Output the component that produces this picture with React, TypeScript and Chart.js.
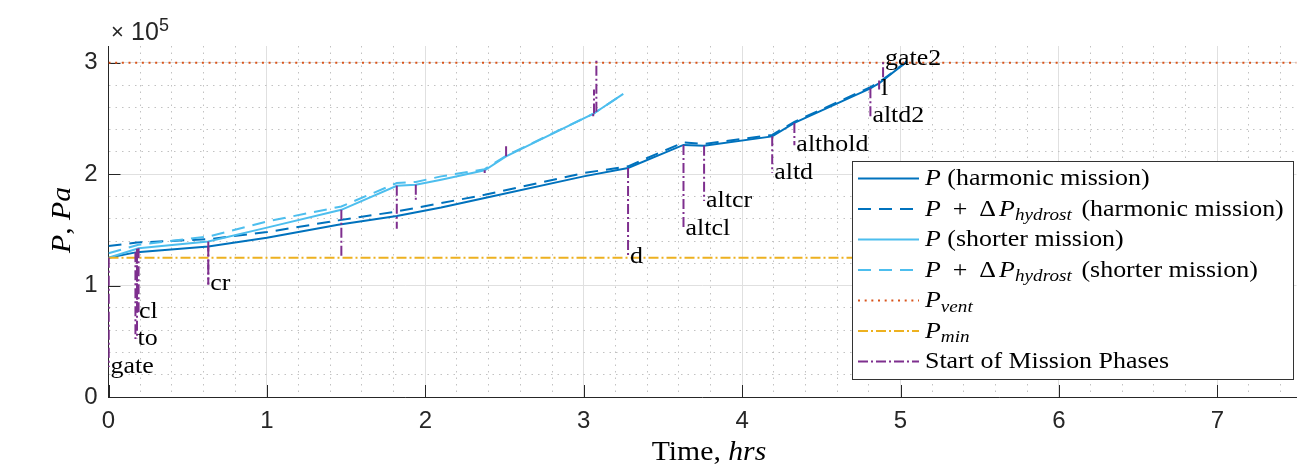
import React, { useEffect, useRef } from "react";
import { Chart, registerables } from "chart.js";

Chart.register(...registerables);

// ---------------- data (pressure in Pa, time in hours) ----------------
const harmonicTime = [0, 0.18, 0.63, 1.0, 1.45, 1.82, 2.1, 2.375, 3.0, 3.28, 3.63, 3.76, 4.19, 4.33, 4.81, 4.87, 5.04];
const harmonicP = [125000, 130000, 135000, 143000, 154500, 162500, 170000, 178500, 198000, 205500, 226200, 225500, 233900, 246000, 277000, 282000, 301000];
const harmonicPHydro = [135500, 138600, 141600, 148000, 158500, 166500, 174000, 181500, 201000, 207000, 228500, 227000, 235200, 247000, 278000, 283000, 301000];

const shorterTime = [0, 0.19, 0.63, 1.0, 1.47, 1.82, 1.94, 2.1, 2.375, 2.51, 3.065, 3.08, 3.25];
const shorterP = [125000, 133500, 139500, 152000, 168000, 189500, 190500, 195000, 203500, 216000, 254500, 256000, 272000];
const shorterPHydro = [129000, 136600, 144000, 157500, 171000, 192000, 193000, 198000, 204500, 216500, 254500, 256000, 272000];

const ventPressure = 300000;
const minPressure = 125000;
const timeRange = [0, 7.5];
const pressureRange = [0, 315000];

const phaseNames = ["gate", "to", "cl", "cr", "d", "altcl", "altcr", "altd", "althold", "altd2", "l", "gate2"];
const harmonicPhaseTime = [0, 0.17, 0.18, 0.63, 3.28, 3.63, 3.76, 4.19, 4.33, 4.81, 4.865, 4.89];
const harmonicPhaseP = [125000, 130000, 130000, 135000, 205500, 226200, 225500, 233900, 246000, 277000, 284000, 287000];
const phaseLabelP = [27000, 52000, 76000, 101000, 126000, 151000, 176000, 201000, 226000, 252000, 276000, 303000];
const shorterPhaseTime = [0, 0.18, 0.19, 0.63, 1.47, 1.82, 1.94, 2.375, 2.51, 3.06, 3.065, 3.08];
const shorterPhaseP = [125000, 133000, 133500, 139500, 168000, 189500, 190500, 203500, 216000, 254000, 254500, 256000];

const xTickValues = [0, 1, 2, 3, 4, 5, 6, 7];
const yTickValues = [0, 100000, 200000, 300000];
const xMinorStep = 0.2;
const yMinorStep = 20000;

// ---------------- styling ----------------
const C_HARM = "#0072BD";
const C_SHORT = "#4DBEEE";
const C_VENT = "#D95319";
const C_MIN = "#EDB120";
const C_PHASE = "#7E2F8E";
const AXIS = "#262626";
const SERIF = '"Liberation Serif", "Times New Roman", serif';
const SANS = '"Liberation Sans", Arial, sans-serif';
const DASH = [13, 8];
const DASHDOT = [10, 3, 2, 3];
const DOT = [2, 4.67];

type Seg = { t?: string; it?: boolean; sub?: boolean; gap?: number };

function segFont(s: Seg, size: number) {
  const fs = s.sub ? size * 0.74 : size;
  return `${s.it ? "italic " : ""}${fs}px ${SERIF}`;
}
function rawWidth(ctx: CanvasRenderingContext2D, segs: Seg[], size: number) {
  let w = 0;
  for (const s of segs) {
    if (s.gap) { w += s.gap; continue; }
    ctx.font = segFont(s, size);
    w += ctx.measureText(s.t || "").width;
  }
  return w;
}
function drawRich(ctx: CanvasRenderingContext2D, segs: Seg[], x: number, y: number, size: number,
  align: "left" | "center" = "left", rot = 0, sx = 1.08) {
  ctx.save();
  ctx.textBaseline = "alphabetic";
  ctx.textAlign = "left";
  ctx.fillStyle = "#000";
  const w = rawWidth(ctx, segs, size) * sx;
  ctx.translate(x, y);
  if (rot) ctx.rotate(rot);
  ctx.translate(align === "center" ? -w / 2 : 0, 0);
  ctx.scale(sx, 1);
  let cx = 0;
  for (const s of segs) {
    if (s.gap) { cx += s.gap; continue; }
    ctx.font = segFont(s, size);
    ctx.fillText(s.t || "", cx, s.sub ? size * 0.2 : 0);
    cx += ctx.measureText(s.t || "").width;
  }
  ctx.restore();
}

const hydroSegs: Seg[] = [
  { t: "P", it: true }, { gap: 5 }, { t: " + " }, { gap: 5 }, { t: "Δ" }, { gap: 3 },
  { t: "P", it: true }, { t: "hydrost", it: true, sub: true }, { gap: 3 },
];
const legendRows: Seg[][] = [
  [{ t: "P", it: true }, { t: " (harmonic mission)" }],
  [...hydroSegs, { t: " (harmonic mission)" }],
  [{ t: "P", it: true }, { t: " (shorter mission)" }],
  [...hydroSegs, { t: " (shorter mission)" }],
  [{ t: "P", it: true }, { t: "vent", it: true, sub: true }],
  [{ t: "P", it: true }, { t: "min", it: true, sub: true }],
  [{ t: "Start of Mission Phases" }],
];
const legendStyles = [
  { color: C_HARM, dash: [] as number[] },
  { color: C_HARM, dash: DASH },
  { color: C_SHORT, dash: [] as number[] },
  { color: C_SHORT, dash: DASH },
  { color: C_VENT, dash: DOT },
  { color: C_MIN, dash: DASHDOT },
  { color: C_PHASE, dash: DASHDOT },
];

const isInt = (v: number, unit: number) => Math.abs(v / unit - Math.round(v / unit)) < 1e-6;

const decorPlugin = {
  id: "decor",
  beforeDatasetsDraw(chart: any) {
    const { ctx, chartArea: a, scales } = chart;
    ctx.save();
    ctx.strokeStyle = AXIS;
    ctx.lineWidth = 1;
    ctx.setLineDash([]);
    ctx.beginPath();
    for (const v of xTickValues) {
      const px = Math.round(scales.x.getPixelForValue(v)) + 0.5;
      ctx.moveTo(px, a.bottom);
      ctx.lineTo(px, a.bottom - 12);
    }
    for (const v of yTickValues) {
      const py = Math.round(scales.y.getPixelForValue(v)) + 0.5;
      ctx.moveTo(a.left, py);
      ctx.lineTo(a.left + 12, py);
    }
    ctx.stroke();
    ctx.restore();
  },
  afterDatasetsDraw(chart: any) {
    const { ctx, scales } = chart;
    phaseNames.forEach((name, i) => {
      const px = scales.x.getPixelForValue(harmonicPhaseTime[i]);
      const py = scales.y.getPixelForValue(phaseLabelP[i]);
      drawRich(ctx, [{ t: name }], px + 2, py + 6, 24);
    });
  },
  afterDraw(chart: any) {
    const { ctx } = chart;
    // axis titles
    drawRich(ctx, [{ t: "Time, " }, { t: "hrs", it: true }], 709, 460, 27, "center", 0, 1.1);
    drawRich(ctx, [{ t: "P", it: true }, { t: ", " }, { t: "Pa", it: true }], 70, 220, 27, "center", -Math.PI / 2, 1.1);
    // exponent
    ctx.save();
    ctx.fillStyle = AXIS;
    ctx.textBaseline = "alphabetic";
    ctx.font = `22px ${SANS}`;
    ctx.fillText("×", 111, 39);
    ctx.font = `25px ${SANS}`;
    ctx.fillText("10", 131, 40);
    ctx.font = `18px ${SANS}`;
    ctx.fillText("5", 159, 31);
    ctx.restore();
    // legend
    const lx = 852.5, ly = 161.5, lw = 441, lh = 218;
    ctx.save();
    ctx.fillStyle = "#fff";
    ctx.fillRect(lx, ly, lw, lh);
    ctx.strokeStyle = "#333";
    ctx.lineWidth = 1;
    ctx.setLineDash([]);
    ctx.strokeRect(lx, ly, lw, lh);
    legendRows.forEach((row, i) => {
      const base = 185 + i * 30.5;
      const st = legendStyles[i];
      ctx.save();
      ctx.strokeStyle = st.color;
      ctx.lineWidth = 2;
      ctx.setLineDash(st.dash);
      ctx.beginPath();
      ctx.moveTo(858, base - 6.5);
      ctx.lineTo(919, base - 6.5);
      ctx.stroke();
      ctx.restore();
      drawRich(ctx, row, 925, base, 24);
    });
    ctx.restore();
  },
};

function pts(xs: number[], ys: number[]) {
  return xs.map((x, i) => ({ x, y: ys[i] }));
}

function stepTicks(min: number, max: number, step: number) {
  const out: { value: number }[] = [];
  const n = Math.floor((max - min) / step + 1e-9);
  for (let k = 0; k <= n; k++) out.push({ value: Math.round((min + k * step) * 1e6) / 1e6 });
  return out;
}

export default function App() {
  const ref = useRef<HTMLCanvasElement>(null);
  useEffect(() => {
    const canvas = ref.current!;
    const datasets: any[] = [];
    datasets.push({ data: pts(harmonicTime, harmonicP), borderColor: C_HARM, borderWidth: 2, order: 10 });
    datasets.push({ data: pts(harmonicTime, harmonicPHydro), borderColor: C_HARM, borderWidth: 2, borderDash: DASH, order: 9 });
    datasets.push({ data: pts(shorterTime, shorterP), borderColor: C_SHORT, borderWidth: 2, order: 8 });
    datasets.push({ data: pts(shorterTime, shorterPHydro), borderColor: C_SHORT, borderWidth: 2, borderDash: DASH, order: 7 });
    datasets.push({ data: pts(timeRange, [ventPressure, ventPressure]), borderColor: C_VENT, borderWidth: 2, borderDash: DOT, order: 6 });
    datasets.push({ data: pts(timeRange, [minPressure, minPressure]), borderColor: C_MIN, borderWidth: 2, borderDash: DASHDOT, order: 5 });
    phaseNames.forEach((_, i) => {
      datasets.push({
        data: pts([harmonicPhaseTime[i], harmonicPhaseTime[i]], [harmonicPhaseP[i], phaseLabelP[i]]),
        borderColor: C_PHASE, borderWidth: 2, borderDash: DASHDOT, order: 1,
      });
      datasets.push({
        data: pts([shorterPhaseTime[i], shorterPhaseTime[i]], [shorterPhaseP[i], phaseLabelP[i]]),
        borderColor: C_PHASE, borderWidth: 2, borderDash: DASHDOT, order: 1,
      });
    });

    const gridColor = (unit: number) => (c: any) =>
      c.tick && !isInt(c.tick.value, unit) ? "#c2c2c2" : "#e0e0e0";
    const gridDash = (unit: number) => (c: any) =>
      c.tick && !isInt(c.tick.value, unit) ? [1.5, 5] : [];

    const chart = new Chart(canvas, {
      type: "line",
      data: { datasets },
      options: {
        animation: false,
        responsive: false,
        events: [],
        layout: { padding: { left: 0, right: 1.5, top: 46, bottom: 0 } },
        plugins: { legend: { display: false }, tooltip: { enabled: false } },
        elements: { point: { radius: 0 }, line: { tension: 0, borderCapStyle: "butt" } },
        scales: {
          x: {
            type: "linear",
            min: timeRange[0],
            max: timeRange[1],
            afterFit: (s: any) => { s.height = 72; },
            afterBuildTicks: (s: any) => { s.ticks = stepTicks(timeRange[0], timeRange[1], xMinorStep); },
            ticks: {
              autoSkip: false,
              maxRotation: 0,
              padding: 10,
              color: AXIS,
              font: { family: SANS, size: 24 },
              callback: (v: any) => (isInt(v, 1) ? String(Math.round(v)) : ""),
            },
            grid: { drawTicks: false, color: gridColor(1), lineWidth: 1 },
            border: { display: true, color: AXIS, width: 1, dash: gridDash(1) },
          },
          y: {
            type: "linear",
            min: pressureRange[0],
            max: pressureRange[1],
            afterFit: (s: any) => { s.width = 108.5; },
            afterBuildTicks: (s: any) => { s.ticks = stepTicks(pressureRange[0], pressureRange[1], yMinorStep); },
            ticks: {
              autoSkip: false,
              padding: 11,
              color: AXIS,
              font: { family: SANS, size: 24 },
              callback: (v: any) => (isInt(v, 100000) ? String(Math.round(v / 100000)) : ""),
            },
            grid: { drawTicks: false, color: gridColor(100000), lineWidth: 1 },
            border: { display: true, color: AXIS, width: 1, dash: gridDash(100000) },
          },
        },
      } as any,
      plugins: [decorPlugin],
    });
    return () => chart.destroy();
  }, []);
  return (
    <div style={{ position: "absolute", left: 0, top: 0, width: 1298, height: 469, background: "#fff" }}>
      <canvas ref={ref} width={1298} height={469} style={{ display: "block", width: 1298, height: 469 }} />
    </div>
  );
}
